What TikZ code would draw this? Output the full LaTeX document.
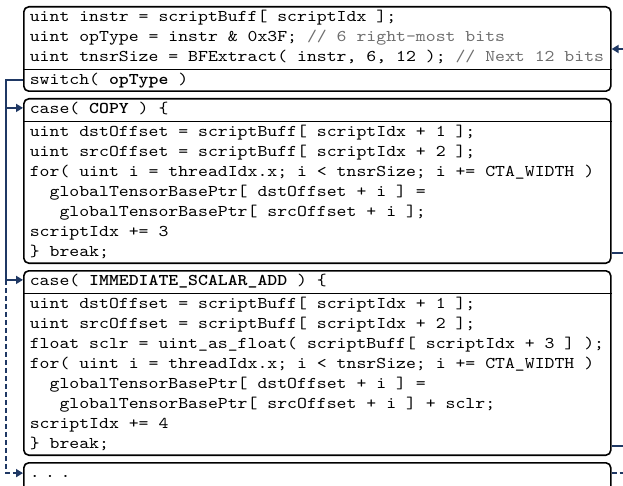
\documentclass[tikz,border=0pt]{standalone}
\usepackage{fontspec}
\usepackage{xcolor}
\usepackage{tikz}
\usetikzlibrary{arrows.meta,positioning,shapes.multipart}
\newfontfamily\codefont{lmmono10-regular}[Extension=.otf, FakeStretch=1.15,
  BoldFont=lmmonolt10-bold]
\definecolor{flownavy}{RGB}{31,56,100}
\definecolor{cmtgray}{RGB}{110,110,110}
\newcommand{\cmt}[1]{\textcolor{cmtgray}{#1}}
\newcommand{\lead}[1]{\hspace*{#1\fontcharwd\font`x}}

\begin{document}
\begin{tikzpicture}[x=1pt, y=-1pt,
  codebox/.style={draw, line width=1.6pt, rounded corners=5pt, minimum width=587pt,
    inner xsep=6pt, inner ysep=0.3pt, align=left,
    font={\codefont\fontsize{16.4}{20}\selectfont\frenchspacing}},
  splitbox/.style={codebox, rectangle split, rectangle split parts=2,
    rectangle split part align=left, rectangle split draw splits=false},
  bus/.style={flownavy, line width=1.8pt},
  busarrow/.style={bus, -{Triangle[length=7pt,width=8pt]}},
  sep/.style={line width=0.8pt}]
  \useasboundingbox (0,0) rectangle (623,486);

  % decode step and the three switch cases
  \node[splitbox, anchor=north west] (head) at (23,6) {\strut uint instr = scriptBuff[ scriptIdx ];\\
    uint opType = instr \& 0x3F; \cmt{// 6 right-most bits}\\
    uint tnsrSize = BFExtract( instr, 6, 12 ); \cmt{// Next 12 bits}\strut
    \nodepart{two}\strut switch( \textbf{opType} )\strut};
  \node[splitbox, below=6pt of head] (copy) {\strut case( \textbf{COPY} ) \{\strut
    \nodepart{two}\strut uint dstOffset = scriptBuff[ scriptIdx + 1 ];\\
    uint srcOffset = scriptBuff[ scriptIdx + 2 ];\\
    for( uint i = threadIdx.x; i < tnsrSize; i += CTA\_WIDTH )\\
    \lead{2}globalTensorBasePtr[ dstOffset + i ] =\\
    \lead{3}globalTensorBasePtr[ srcOffset + i ];\\
    scriptIdx += 3\\
    \} break;\strut};
  \node[splitbox, below=6pt of copy] (imm) {\strut case( \textbf{IMMEDIATE\_SCALAR\_ADD} ) \{\strut
    \nodepart{two}\strut uint dstOffset = scriptBuff[ scriptIdx + 1 ];\\
    uint srcOffset = scriptBuff[ scriptIdx + 2 ];\\
    float sclr = uint\_as\_float( scriptBuff[ scriptIdx + 3 ] );\\
    for( uint i = threadIdx.x; i < tnsrSize; i += CTA\_WIDTH )\\
    \lead{2}globalTensorBasePtr[ dstOffset + i ] =\\
    \lead{3}globalTensorBasePtr[ srcOffset + i ] + sclr;\\
    scriptIdx += 4\\
    \} break;\strut};
  \node[codebox, text width=575pt, below=6pt of imm, text depth=40pt] (dots) {\strut. . .};

  \draw[sep] (head.text split west) -- (head.text split east);
  \draw[sep] (copy.text split west) -- (copy.text split east);
  \draw[sep] (imm.text split west) -- (imm.text split east);

  % dispatch on the left
  \coordinate (busx) at (6,0);
  \draw[bus] (head.two west) -| (busx |- imm.text west);
  \draw[busarrow] ([yshift=2pt]busx |- copy.text west) -- ([yshift=2pt]copy.text west);
  \draw[busarrow] ([yshift=2pt]busx |- imm.text west) -- ([yshift=2pt]imm.text west);
  \draw[busarrow, dash pattern=on 5pt off 3pt] ([yshift=2pt]busx |- imm.text west)
    |- ([yshift=4pt]dots.west |- dots.text);

  % loop back on the right
  \coordinate (rim) at (623,0);
  \draw[busarrow] (head.east -| rim) -- (head.east);
  \draw[bus] ([yshift=11pt]copy.south east) -- ([yshift=11pt]rim |- copy.south east);
  \draw[bus] ([yshift=10pt]imm.south east) -- ([yshift=10pt]rim |- imm.south east);
  \draw[bus, dash pattern=on 5pt off 3pt] ([yshift=4pt]dots.east |- dots.text)
    -- ([yshift=4pt]rim |- dots.text);
\end{tikzpicture}
\end{document}
